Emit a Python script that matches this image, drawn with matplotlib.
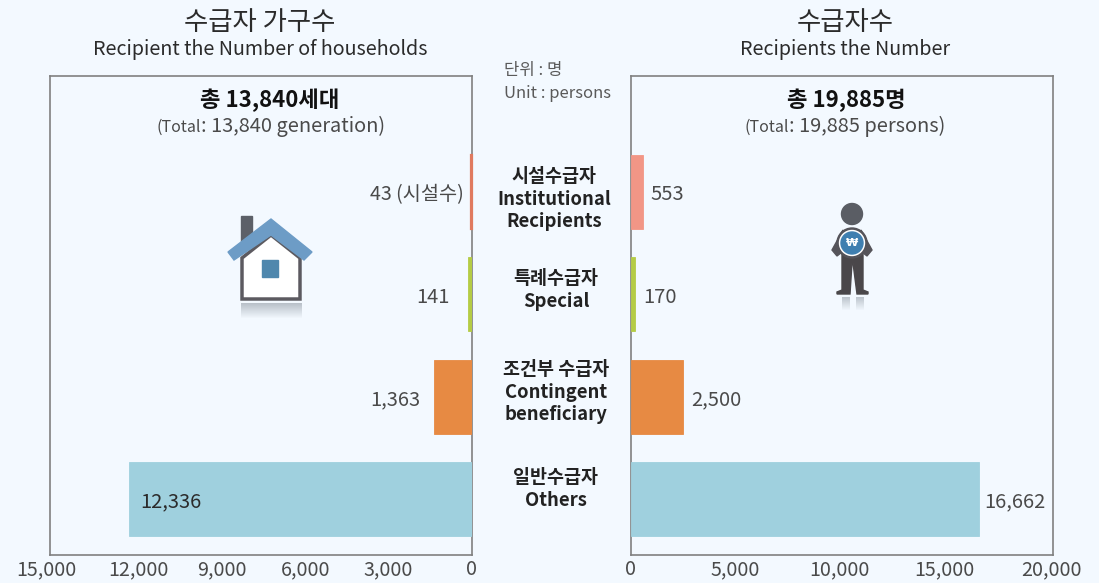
import matplotlib
matplotlib.use("Agg")
import matplotlib.pyplot as plt
from matplotlib.patches import Polygon, Rectangle, Circle
from matplotlib.transforms import ScaledTranslation

plt.rcParams['font.family'] = ['Noto Sans CJK KR', 'DejaVu Sans']

categories = ["일반수급자\nOthers", "조건부 수급자\nContingent\nbeneficiary", "특례수급자\nSpecial", "시설수급자\nInstitutional\nRecipients"]
households = [12336, 1363, 141, 43]
persons = [16662, 2500, 170, 553]
household_labels = ["12,336", "1,363", "141", "43 (시설수)"]
person_labels = ["16,662", "2,500", "170", "553"]
household_colors = ["#9fd0de", "#e78a43", "#b5cc45", "#e07a5f"]
person_colors = ["#9fd0de", "#e78a43", "#b5cc45", "#f29686"]
left_ticks = [15000, 12000, 9000, 6000, 3000, 0]
right_ticks = [0, 5000, 10000, 15000, 20000]

W, H = 1099, 583
bg = "#f3f9ff"
txt = "#2b2b2b"
soft = "#4a4a4a"
edge = "#808080"

fig = plt.figure(figsize=(W / 100, H / 100), dpi=100, facecolor=bg)

def px_axes(x0, y0, x1, y1):
    return fig.add_axes([x0 / W, 1 - y1 / H, (x1 - x0) / W, (y1 - y0) / H], facecolor=bg)

def ftext(x, y, s, **kw):
    kw.setdefault("ha", "center")
    kw.setdefault("va", "center")
    kw.setdefault("color", txt)
    fig.text(x / W, 1 - y / H, s, **kw)

ax1 = px_axes(50, 76, 472, 555)
ax2 = px_axes(631, 76, 1053, 555)
ypos = [0, 1, 2, 3]

bars1 = ax1.barh(ypos, households, height=0.723, color=household_colors, edgecolor=household_colors, linewidth=0.6, zorder=3)
# 43 is under 2 px wide, it vanishes without a thicker outline
bars1[3].set_linewidth(1.6)
bars1[3].set_clip_on(False)
ax1.set_xlim(15180, 0)
ax1.set_xticks(left_ticks)
ax1.set_xticklabels([f"{t:,}" for t in left_ticks])
ax2.barh(ypos, persons, height=0.723, color=person_colors, edgecolor=person_colors, linewidth=0.6, zorder=3)
ax2.set_xlim(0, 20200)
ax2.set_xticks(right_ticks)
ax2.set_xticklabels([f"{t:,}" for t in right_ticks])

for ax in (ax1, ax2):
    ax.set_ylim(-0.547, 4.135)
    ax.set_yticks([])
    ax.tick_params(axis="x", length=0, labelsize=14.2, pad=3, labelcolor=soft)
    for s in ax.spines.values():
        s.set_color(edge)
        s.set_linewidth(1.2)

# end labels sit a bit off the scale in the original
first = ax1.get_xticklabels()[0]
first.set_transform(first.get_transform() + ScaledTranslation(-9 / 100, 0, fig.dpi_scale_trans))
last = ax2.get_xticklabels()[-1]
last.set_transform(last.get_transform() + ScaledTranslation(3 / 100, 0, fig.dpi_scale_trans))

ax1.annotate(household_labels[0], (households[0], 0), xytext=(8, -2), textcoords="offset points", ha="left", va="center", fontsize=14.5, color=txt)
ax1.annotate(household_labels[1], (households[1], 1), xytext=(-10, -2), textcoords="offset points", ha="right", va="center", fontsize=14.5, color=soft)
ax1.annotate(household_labels[2], (households[2], 2), xytext=(-13, -2), textcoords="offset points", ha="right", va="center", fontsize=14.5, color=soft)
ax1.annotate(household_labels[3], (households[3], 3), xytext=(-5, -2), textcoords="offset points", ha="right", va="center", fontsize=14.2, color=soft)
for i, v in enumerate(persons):
    ax2.annotate(person_labels[i], (v, i), xytext=(4 if i == 0 else 6, -2), textcoords="offset points", ha="left", va="center", fontsize=14.5, color=soft)

ftext(260, 23, "수급자 가구수", fontsize=19)
ftext(260, 49, "Recipient the Number of households", fontsize=14.2)
ftext(845, 23, "수급자수", fontsize=19)
ftext(845, 49, "Recipients the Number", fontsize=14.2)
ftext(504, 70, "단위 : 명", fontsize=12, ha="left", color="#5a5a5a")
ftext(504, 94, "Unit : persons", fontsize=12, ha="left", color="#5a5a5a")
ftext(270, 100, "총 13,840세대", fontsize=16, fontweight="bold", color="#111111")
ftext(846, 100, "총 19,885명", fontsize=16, fontweight="bold", color="#111111")
ftext(156, 127, "(Total", fontsize=11.5, ha="left", color=soft)
ftext(201, 126, ": 13,840 generation)", fontsize=14.4, ha="left", color=soft)
ftext(744, 127, "(Total", fontsize=11.5, ha="left", color=soft)
ftext(789, 126, ": 19,885 persons)", fontsize=14.4, ha="left", color=soft)

ftext(554, 199, categories[3], fontsize=13.3, fontweight="bold", color="#222222", linespacing=1.25)
ftext(556, 290, categories[2], fontsize=13.3, fontweight="bold", color="#222222", linespacing=1.25)
ftext(556, 392, categories[1], fontsize=13.3, fontweight="bold", color="#222222", linespacing=1.25)
ftext(556, 489, categories[0], fontsize=13.3, fontweight="bold", color="#222222", linespacing=1.25)

# icons are drawn in pixel coords on a full-figure overlay
ov = fig.add_axes([0, 0, 1, 1], facecolor="none")
ov.set_xlim(0, W)
ov.set_ylim(H, 0)
ov.axis("off")

# house
ov.add_patch(Rectangle((241, 216), 11, 30, color="#5c6068"))
ov.add_patch(Polygon([(271, 235), (300, 258), (300, 299), (242, 299), (242, 258)], facecolor="white", edgecolor="#5c5a60", linewidth=2.5))
ov.add_patch(Polygon([(271, 219), (312, 252), (304, 260), (271, 235), (234, 260), (228, 252)], color="#6d9cc6"))
ov.add_patch(Rectangle((262, 260), 16, 17, color="#4f87ad"))
for k in range(15):
    ov.add_patch(Rectangle((241, 303 + k), 61, 1, color="#9aa3ad", alpha=0.65 * (1 - k / 15), linewidth=0))

# person
ov.add_patch(Circle((852, 214), 10.5, color="#5a5d64"))
ov.add_patch(Polygon([(842, 253), (842, 290), (837, 292), (837, 294), (850, 294), (852, 263), (853, 263), (857, 294), (868, 294), (868, 292), (863, 290), (863, 253)], color="#4a474a"))
ov.add_patch(Polygon([(843, 230), (832, 250), (837, 256), (846, 249)], color="#55545a"))
ov.add_patch(Polygon([(861, 230), (872, 250), (867, 256), (858, 249)], color="#55545a"))
ov.add_patch(Circle((852, 243), 15, color="#55545a"))
ov.add_patch(Circle((852, 243), 12.5, color="white"))
ov.add_patch(Circle((852, 243), 11, color="#3f7fb0"))
ov.text(852, 243, "₩", color="white", fontsize=8, fontweight="bold", ha="center", va="center", family="DejaVu Sans")
for k in range(13):
    for x0 in (842, 856):
        ov.add_patch(Rectangle((x0, 297 + k), 8, 1, color="#9aa3ad", alpha=0.6 * (1 - k / 13), linewidth=0))

fig.savefig("out.png", dpi=100, facecolor=bg)
